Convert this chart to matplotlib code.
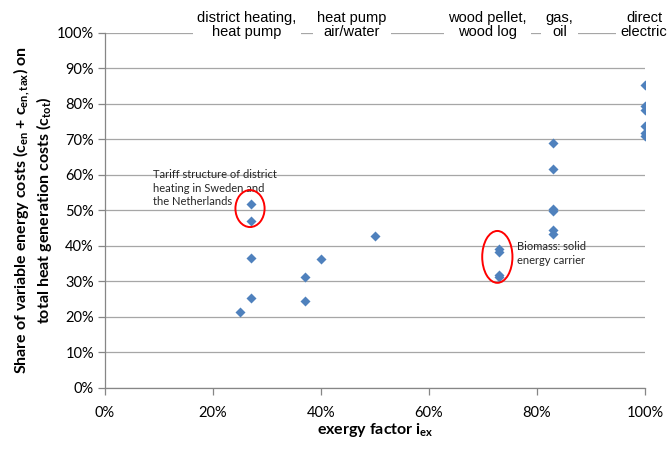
import numpy as np
import matplotlib
matplotlib.use('Agg')
from matplotlib import pyplot as plt
from matplotlib.patches import Ellipse
from matplotlib.ticker import PercentFormatter

# exergy factor of the heat generation system [%]
exergy_factor = [25, 27, 27, 27, 27, 37, 37, 40, 50,
                 73, 73, 73, 73,
                 83, 83, 83, 83, 83, 83,
                 100, 100, 100, 100, 100, 100]
# share of variable energy costs on total heat generation costs [%]
energy_share = [21.4, 51.8, 47.0, 36.6, 25.3, 31.2, 24.5, 36.3, 42.8,
                39.1, 38.3, 31.8, 31.2,
                68.9, 61.6, 50.4, 49.8, 44.4, 43.3,
                85.2, 79.3, 78.2, 73.7, 71.7, 70.9]

categories = ['district heating,\nheat pump', 'heat pump\nair/water',
              'wood pellet,\nwood log', 'gas,\noil', 'direct\nelectric']
category_x = [26.3, 45.7, 70.8, 84.2, 99.8]

x_ticks = [0, 20, 40, 60, 80, 100]
y_ticks = [0, 10, 20, 30, 40, 50, 60, 70, 80, 90, 100]

plt.rcParams['font.family'] = ['Lato', 'DejaVu Sans']
plt.rcParams['font.size'] = 10.5

fig = plt.figure(figsize=(6.71, 4.5), dpi=100)
ax = fig.add_axes([0.1565, 0.1378, 0.8048, 0.7895])

ax.scatter(exergy_factor, energy_share, marker='D', s=26, color='#4F81BD',
           zorder=3, linewidths=0)

ax.set_xlim(0, 100)
ax.set_ylim(0, 100)
ax.set_xticks(x_ticks)
ax.set_yticks(y_ticks)
ax.xaxis.set_major_formatter(PercentFormatter(decimals=0))
ax.yaxis.set_major_formatter(PercentFormatter(decimals=0))
ax.grid(axis='y', color='#a6a6a6', linewidth=0.9)
ax.set_axisbelow(True)
ax.margins(0)

for side in ['top', 'right']:
    ax.spines[side].set_visible(False)
for side in ['left', 'bottom']:
    ax.spines[side].set_color('#868686')
    ax.spines[side].set_linewidth(0.9)
ax.tick_params(axis='both', colors='#868686', length=5, width=0.9,
               labelcolor='black', labelsize=10.5)
ax.tick_params(axis='x', pad=8)
ax.tick_params(axis='y', pad=3)

ax.set_xlabel(r'exergy factor $\mathregular{i_{ex}}$', fontsize=11.5,
              fontweight='bold', labelpad=1)
ax.set_ylabel('Share of variable energy costs ($\\mathregular{c_{en}}$ + '
              '$\\mathregular{c_{en,tax}}$) on\ntotal heat generation costs '
              '($\\mathregular{c_{tot}}$)', fontsize=11.5, fontweight='bold',
              labelpad=2, linespacing=1.1)

# category labels on the 100 % line
for label, xpos in zip(categories, category_x):
    ax.annotate(label, xy=(xpos, 100), xytext=(0, 8), textcoords='offset pixels',
                ha='center', va='center', multialignment='center',
                family='Liberation Sans', fontsize=10.5, linespacing=1.0,
                bbox=dict(boxstyle='square,pad=0.3', facecolor='white',
                          edgecolor='none'),
                annotation_clip=False, zorder=4)

# highlighted groups
ax.add_patch(Ellipse((26.85, 50.5), 5.4, 10.4, fill=False, edgecolor='red',
                     linewidth=1.4, zorder=4))
ax.add_patch(Ellipse((72.65, 36.9), 5.6, 14.6, fill=False, edgecolor='red',
                     linewidth=1.4, zorder=4))

ax.text(8.9, 61.5, 'Tariff structure of district\nheating in Sweden and\nthe Netherlands',
        ha='left', va='top', fontsize=8, linespacing=1.25, color='#262626')
ax.text(76.2, 41.3, 'Biomass: solid\nenergy carrier',
        ha='left', va='top', fontsize=8, linespacing=1.25, color='#262626')

plt.savefig('out.png', dpi=100)
